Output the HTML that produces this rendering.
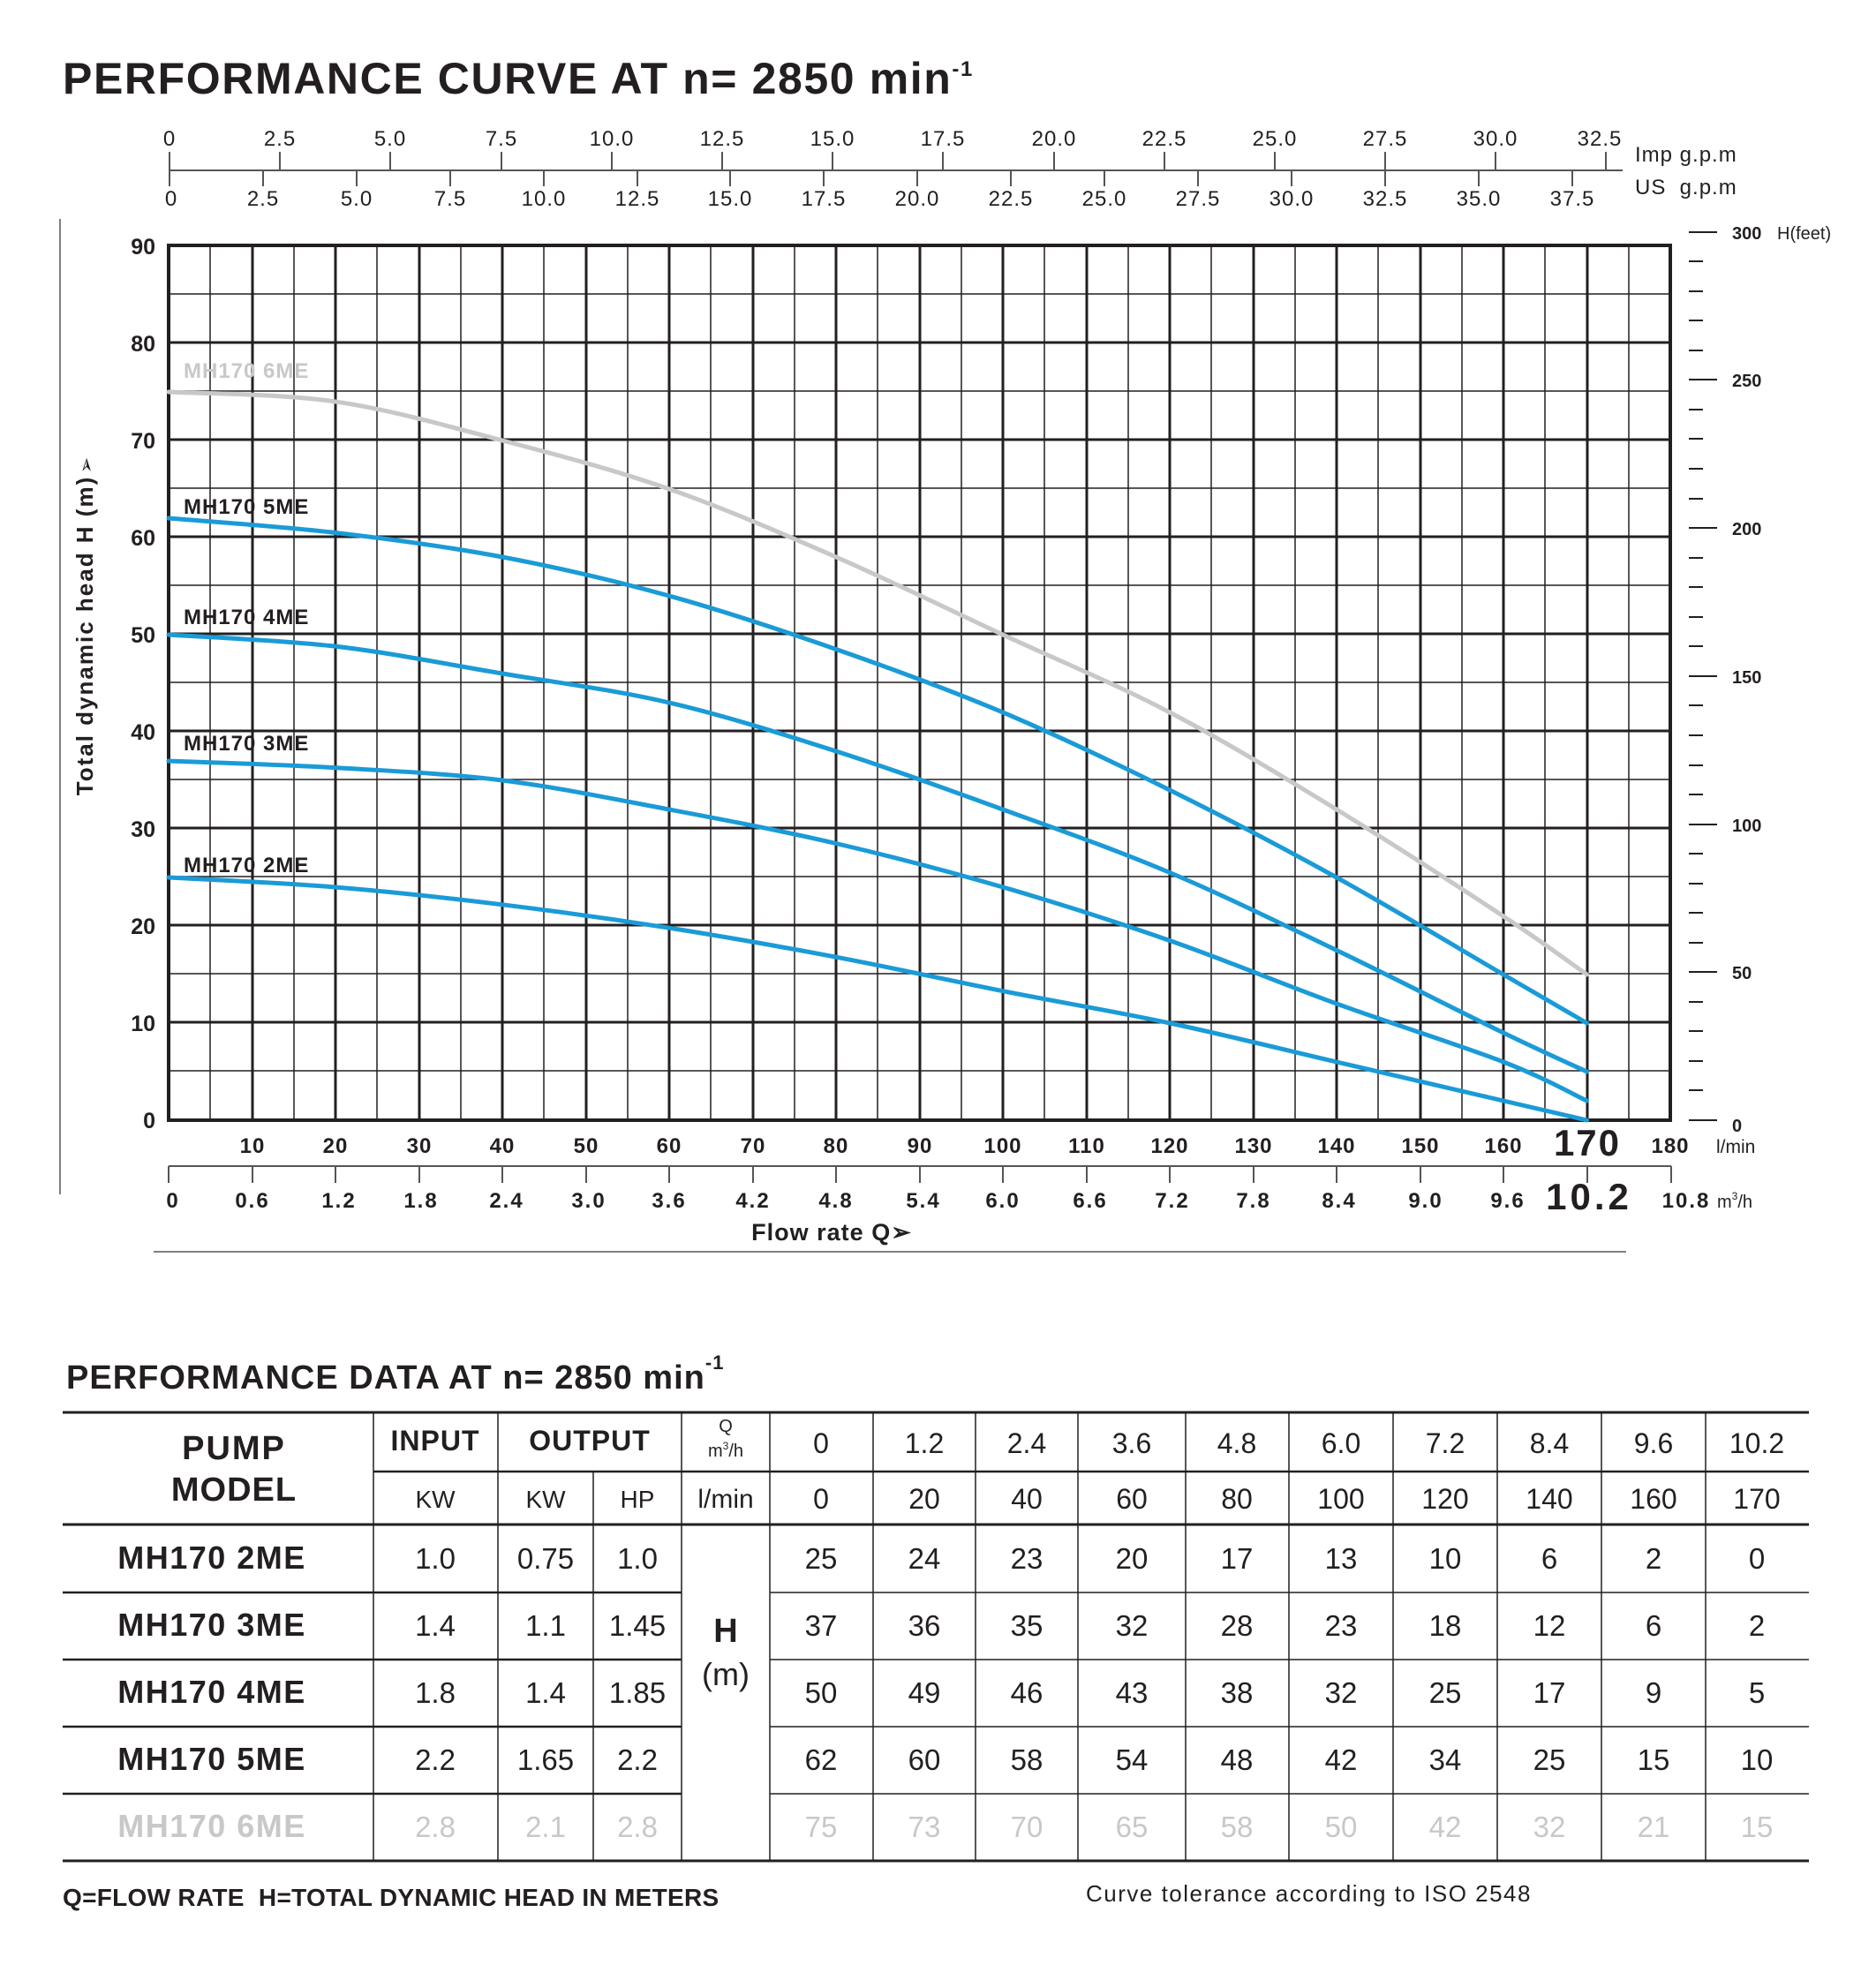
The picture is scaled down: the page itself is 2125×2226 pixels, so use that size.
<!DOCTYPE html>
<html><head><meta charset="utf-8">
<style>
html,body{margin:0;padding:0;background:#fff;}
svg{display:block;}
text{font-family:"Liberation Sans",Arial,sans-serif;fill:#231f20;}
</style></head>
<body>
<svg xmlns="http://www.w3.org/2000/svg" width="2125" height="2226" viewBox="0 0 2125 2226">
<rect width="2125" height="2226" fill="#fff"/>
<text x="71" y="106" font-size="50" font-weight="bold" letter-spacing="1.6">PERFORMANCE CURVE AT n= 2850 min<tspan font-size="24" dy="-20">-1</tspan></text>

<g stroke="#555" stroke-width="2">
<line x1="192" y1="193" x2="1838" y2="193"/>
<line x1="192" y1="172" x2="192" y2="211"/>
<line x1="317" y1="172" x2="317" y2="193"/><line x1="442" y1="172" x2="442" y2="193"/><line x1="568" y1="172" x2="568" y2="193"/><line x1="693" y1="172" x2="693" y2="193"/><line x1="818" y1="172" x2="818" y2="193"/><line x1="943" y1="172" x2="943" y2="193"/><line x1="1068" y1="172" x2="1068" y2="193"/><line x1="1194" y1="172" x2="1194" y2="193"/><line x1="1319" y1="172" x2="1319" y2="193"/><line x1="1444" y1="172" x2="1444" y2="193"/><line x1="1569" y1="172" x2="1569" y2="193"/><line x1="1694" y1="172" x2="1694" y2="193"/><line x1="1819" y1="172" x2="1819" y2="193"/>
<line x1="298" y1="193" x2="298" y2="211"/><line x1="404" y1="193" x2="404" y2="211"/><line x1="510" y1="193" x2="510" y2="211"/><line x1="616" y1="193" x2="616" y2="211"/><line x1="722" y1="193" x2="722" y2="211"/><line x1="827" y1="193" x2="827" y2="211"/><line x1="933" y1="193" x2="933" y2="211"/><line x1="1039" y1="193" x2="1039" y2="211"/><line x1="1145" y1="193" x2="1145" y2="211"/><line x1="1251" y1="193" x2="1251" y2="211"/><line x1="1357" y1="193" x2="1357" y2="211"/><line x1="1463" y1="193" x2="1463" y2="211"/><line x1="1569" y1="193" x2="1569" y2="211"/><line x1="1675" y1="193" x2="1675" y2="211"/><line x1="1781" y1="193" x2="1781" y2="211"/>
</g>
<g font-size="24" text-anchor="middle" letter-spacing="1">
<text x="192" y="165">0</text><text x="317" y="165">2.5</text><text x="442" y="165">5.0</text><text x="568" y="165">7.5</text><text x="693" y="165">10.0</text><text x="818" y="165">12.5</text><text x="943" y="165">15.0</text><text x="1068" y="165">17.5</text><text x="1194" y="165">20.0</text><text x="1319" y="165">22.5</text><text x="1444" y="165">25.0</text><text x="1569" y="165">27.5</text><text x="1694" y="165">30.0</text><text x="1812" y="165">32.5</text>
<text x="194" y="233">0</text><text x="298" y="233">2.5</text><text x="404" y="233">5.0</text><text x="510" y="233">7.5</text><text x="616" y="233">10.0</text><text x="722" y="233">12.5</text><text x="827" y="233">15.0</text><text x="933" y="233">17.5</text><text x="1039" y="233">20.0</text><text x="1145" y="233">22.5</text><text x="1251" y="233">25.0</text><text x="1357" y="233">27.5</text><text x="1463" y="233">30.0</text><text x="1569" y="233">32.5</text><text x="1675" y="233">35.0</text><text x="1781" y="233">37.5</text>
</g>
<text x="1852" y="183" font-size="24" letter-spacing="1">Imp g.p.m</text>
<text x="1852" y="220" font-size="24" letter-spacing="1">US&#160; g.p.m</text>

<line x1="68" y1="248" x2="68" y2="1353" stroke="#555" stroke-width="1.5"/>

<g stroke="#231f20" stroke-width="1.5">
<line x1="238" y1="278" x2="238" y2="1269"/><line x1="333" y1="278" x2="333" y2="1269"/><line x1="427" y1="278" x2="427" y2="1269"/><line x1="522" y1="278" x2="522" y2="1269"/><line x1="616" y1="278" x2="616" y2="1269"/><line x1="711" y1="278" x2="711" y2="1269"/><line x1="805" y1="278" x2="805" y2="1269"/><line x1="900" y1="278" x2="900" y2="1269"/><line x1="994" y1="278" x2="994" y2="1269"/><line x1="1089" y1="278" x2="1089" y2="1269"/><line x1="1183" y1="278" x2="1183" y2="1269"/><line x1="1278" y1="278" x2="1278" y2="1269"/><line x1="1372" y1="278" x2="1372" y2="1269"/><line x1="1467" y1="278" x2="1467" y2="1269"/><line x1="1561" y1="278" x2="1561" y2="1269"/><line x1="1656" y1="278" x2="1656" y2="1269"/><line x1="1750" y1="278" x2="1750" y2="1269"/><line x1="1845" y1="278" x2="1845" y2="1269"/>
<line x1="191" y1="333" x2="1892" y2="333"/><line x1="191" y1="443" x2="1892" y2="443"/><line x1="191" y1="553" x2="1892" y2="553"/><line x1="191" y1="663" x2="1892" y2="663"/><line x1="191" y1="773" x2="1892" y2="773"/><line x1="191" y1="883" x2="1892" y2="883"/><line x1="191" y1="993" x2="1892" y2="993"/><line x1="191" y1="1103" x2="1892" y2="1103"/><line x1="191" y1="1213" x2="1892" y2="1213"/>
</g>
<g stroke="#231f20" stroke-width="3">
<line x1="286" y1="278" x2="286" y2="1269"/><line x1="380" y1="278" x2="380" y2="1269"/><line x1="475" y1="278" x2="475" y2="1269"/><line x1="569" y1="278" x2="569" y2="1269"/><line x1="664" y1="278" x2="664" y2="1269"/><line x1="758" y1="278" x2="758" y2="1269"/><line x1="853" y1="278" x2="853" y2="1269"/><line x1="947" y1="278" x2="947" y2="1269"/><line x1="1042" y1="278" x2="1042" y2="1269"/><line x1="1136" y1="278" x2="1136" y2="1269"/><line x1="1231" y1="278" x2="1231" y2="1269"/><line x1="1325" y1="278" x2="1325" y2="1269"/><line x1="1420" y1="278" x2="1420" y2="1269"/><line x1="1514" y1="278" x2="1514" y2="1269"/><line x1="1609" y1="278" x2="1609" y2="1269"/><line x1="1703" y1="278" x2="1703" y2="1269"/><line x1="1798" y1="278" x2="1798" y2="1269"/>
<line x1="191" y1="388" x2="1892" y2="388"/><line x1="191" y1="498" x2="1892" y2="498"/><line x1="191" y1="608" x2="1892" y2="608"/><line x1="191" y1="718" x2="1892" y2="718"/><line x1="191" y1="828" x2="1892" y2="828"/><line x1="191" y1="938" x2="1892" y2="938"/><line x1="191" y1="1048" x2="1892" y2="1048"/><line x1="191" y1="1158" x2="1892" y2="1158"/>
</g>
<rect x="191" y="278" width="1701" height="991" fill="none" stroke="#231f20" stroke-width="4"/>

<g font-size="25" font-weight="bold" text-anchor="end">
<text x="176" y="1278">0</text><text x="176" y="1168">10</text><text x="176" y="1058">20</text><text x="176" y="948">30</text><text x="176" y="838">40</text><text x="176" y="728">50</text><text x="176" y="618">60</text><text x="176" y="508">70</text><text x="176" y="398">80</text><text x="176" y="288">90</text>
</g>
<text transform="translate(105,720) rotate(-90)" font-size="26" font-weight="bold" text-anchor="middle" letter-spacing="2">Total dynamic head H (m)</text>
<text transform="translate(105,527) rotate(-90)" font-size="22" text-anchor="middle">➢</text>

<g stroke="#231f20" stroke-width="2">
<line x1="1913" y1="1269" x2="1945" y2="1269"/><line x1="1913" y1="1101" x2="1945" y2="1101"/><line x1="1913" y1="934" x2="1945" y2="934"/><line x1="1913" y1="766" x2="1945" y2="766"/><line x1="1913" y1="598" x2="1945" y2="598"/><line x1="1913" y1="430" x2="1945" y2="430"/><line x1="1913" y1="263" x2="1945" y2="263"/>
<line x1="1913" y1="1235" x2="1929" y2="1235"/><line x1="1913" y1="1202" x2="1929" y2="1202"/><line x1="1913" y1="1168" x2="1929" y2="1168"/><line x1="1913" y1="1135" x2="1929" y2="1135"/>
<line x1="1913" y1="1068" x2="1929" y2="1068"/><line x1="1913" y1="1034" x2="1929" y2="1034"/><line x1="1913" y1="1001" x2="1929" y2="1001"/><line x1="1913" y1="967" x2="1929" y2="967"/>
<line x1="1913" y1="900" x2="1929" y2="900"/><line x1="1913" y1="867" x2="1929" y2="867"/><line x1="1913" y1="833" x2="1929" y2="833"/><line x1="1913" y1="799" x2="1929" y2="799"/>
<line x1="1913" y1="732" x2="1929" y2="732"/><line x1="1913" y1="699" x2="1929" y2="699"/><line x1="1913" y1="665" x2="1929" y2="665"/><line x1="1913" y1="632" x2="1929" y2="632"/>
<line x1="1913" y1="565" x2="1929" y2="565"/><line x1="1913" y1="531" x2="1929" y2="531"/><line x1="1913" y1="497" x2="1929" y2="497"/><line x1="1913" y1="464" x2="1929" y2="464"/>
<line x1="1913" y1="397" x2="1929" y2="397"/><line x1="1913" y1="363" x2="1929" y2="363"/><line x1="1913" y1="330" x2="1929" y2="330"/><line x1="1913" y1="296" x2="1929" y2="296"/>
</g>
<g font-size="20" font-weight="bold">
<text x="1962" y="1282">0</text><text x="1962" y="1109">50</text><text x="1962" y="942">100</text><text x="1962" y="774">150</text><text x="1962" y="606">200</text><text x="1962" y="438">250</text><text x="1962" y="271">300</text>
</g>
<text x="2013" y="271" font-size="20">H(feet)</text>

<g font-size="24" font-weight="bold" text-anchor="middle" letter-spacing="1">
<text x="286" y="1306">10</text><text x="380" y="1306">20</text><text x="475" y="1306">30</text><text x="569" y="1306">40</text><text x="664" y="1306">50</text><text x="758" y="1306">60</text><text x="853" y="1306">70</text><text x="947" y="1306">80</text><text x="1042" y="1306">90</text><text x="1136" y="1306">100</text><text x="1231" y="1306">110</text><text x="1325" y="1306">120</text><text x="1420" y="1306">130</text><text x="1514" y="1306">140</text><text x="1609" y="1306">150</text><text x="1703" y="1306">160</text><text x="1892" y="1306">180</text>
</g>
<text x="1798" y="1309" font-size="42" font-weight="bold" text-anchor="middle" letter-spacing="2">170</text>
<text x="1944" y="1306" font-size="21">l/min</text>
<g stroke="#555" stroke-width="2">
<line x1="191" y1="1321" x2="1893" y2="1321"/>
<line x1="191" y1="1321" x2="191" y2="1340"/><line x1="286" y1="1321" x2="286" y2="1340"/><line x1="380" y1="1321" x2="380" y2="1340"/><line x1="475" y1="1321" x2="475" y2="1340"/><line x1="569" y1="1321" x2="569" y2="1340"/><line x1="664" y1="1321" x2="664" y2="1340"/><line x1="758" y1="1321" x2="758" y2="1340"/><line x1="853" y1="1321" x2="853" y2="1340"/><line x1="947" y1="1321" x2="947" y2="1340"/><line x1="1042" y1="1321" x2="1042" y2="1340"/><line x1="1136" y1="1321" x2="1136" y2="1340"/><line x1="1231" y1="1321" x2="1231" y2="1340"/><line x1="1325" y1="1321" x2="1325" y2="1340"/><line x1="1420" y1="1321" x2="1420" y2="1340"/><line x1="1514" y1="1321" x2="1514" y2="1340"/><line x1="1609" y1="1321" x2="1609" y2="1340"/><line x1="1703" y1="1321" x2="1703" y2="1340"/><line x1="1798" y1="1321" x2="1798" y2="1340"/><line x1="1893" y1="1321" x2="1893" y2="1340"/>
</g>
<g font-size="24" font-weight="bold" text-anchor="middle" letter-spacing="2">
<text x="196" y="1368">0</text><text x="286" y="1368">0.6</text><text x="384" y="1368">1.2</text><text x="477" y="1368">1.8</text><text x="574" y="1368">2.4</text><text x="667" y="1368">3.0</text><text x="758" y="1368">3.6</text><text x="853" y="1368">4.2</text><text x="947" y="1368">4.8</text><text x="1046" y="1368">5.4</text><text x="1136" y="1368">6.0</text><text x="1235" y="1368">6.6</text><text x="1328" y="1368">7.2</text><text x="1420" y="1368">7.8</text><text x="1517" y="1368">8.4</text><text x="1615" y="1368">9.0</text><text x="1708" y="1368">9.6</text><text x="1910" y="1368">10.8</text>
</g>
<text x="1800" y="1370" font-size="42" font-weight="bold" text-anchor="middle" letter-spacing="4">10.2</text>
<text x="1945" y="1368" font-size="20">m<tspan font-size="12" dy="-9">3</tspan><tspan dy="9">/h</tspan></text>
<text x="942" y="1405" font-size="27" font-weight="bold" text-anchor="middle" letter-spacing="1">Flow rate Q➢</text>
<line x1="174" y1="1418" x2="1842" y2="1418" stroke="#555" stroke-width="1.5"/>

<g fill="none" stroke-width="5" stroke-linejoin="round" stroke-linecap="round">
<path id="c6" stroke="#c8c8c8" d="M191,444 L380,466 L569,499 L758,554 L947,631 L1136,719 L1325,807 L1514,917 L1703,1038 L1797,1104"/>
<path id="c5" stroke="#1a9bd7" d="M191,587 L380,609 L569,631 L758,675 L947,741 L1136,807 L1325,895 L1514,994 L1703,1104 L1797,1159"/>
<path id="c4" stroke="#1a9bd7" d="M191,719 L380,730 L569,763 L758,796 L947,851 L1136,917 L1325,994 L1514,1082 L1703,1170 L1797,1214"/>
<path id="c3" stroke="#1a9bd7" d="M191,862 L380,873 L569,884 L758,917 L947,961 L1136,1016 L1325,1071 L1514,1137 L1703,1203 L1797,1247"/>
<path id="c2" stroke="#1a9bd7" d="M191,994 L380,1005 L569,1016 L758,1049 L947,1082 L1136,1126 L1325,1159 L1514,1203 L1703,1247 L1797,1269"/>
</g>
<g font-size="24" font-weight="bold" letter-spacing="1">
<text x="208" y="428" style="fill:#c8c8c8">MH170 6ME</text>
<text x="208" y="582">MH170 5ME</text>
<text x="208" y="707">MH170 4ME</text>
<text x="208" y="850">MH170 3ME</text>
<text x="208" y="988">MH170 2ME</text>
</g>

<text x="75" y="1573" font-size="38" font-weight="bold" letter-spacing="1">PERFORMANCE DATA AT n= 2850 min<tspan font-size="22" dy="-22">-1</tspan></text>

<g stroke="#231f20">
<line x1="71" y1="1600" x2="2049" y2="1600" stroke-width="3"/>
<line x1="423" y1="1667" x2="2049" y2="1667" stroke-width="2.5"/>
<line x1="71" y1="1727" x2="2049" y2="1727" stroke-width="3"/>
<line x1="71" y1="1804" x2="772" y2="1804" stroke-width="2.5"/><line x1="872" y1="1804" x2="2049" y2="1804" stroke-width="1.5"/>
<line x1="71" y1="1880" x2="772" y2="1880" stroke-width="2.5"/><line x1="872" y1="1880" x2="2049" y2="1880" stroke-width="1.5"/>
<line x1="71" y1="1956" x2="772" y2="1956" stroke-width="2.5"/><line x1="872" y1="1956" x2="2049" y2="1956" stroke-width="1.5"/>
<line x1="71" y1="2032" x2="772" y2="2032" stroke-width="2.5"/><line x1="872" y1="2032" x2="2049" y2="2032" stroke-width="1.5"/>
<line x1="71" y1="2108" x2="2049" y2="2108" stroke-width="3"/>
<g stroke-width="1.5">
<line x1="423" y1="1600" x2="423" y2="2108"/><line x1="564" y1="1600" x2="564" y2="2108"/><line x1="672" y1="1667" x2="672" y2="2108"/><line x1="772" y1="1600" x2="772" y2="2108"/><line x1="872" y1="1600" x2="872" y2="2108"/>
<line x1="989" y1="1600" x2="989" y2="2108"/><line x1="1105" y1="1600" x2="1105" y2="2108"/><line x1="1221" y1="1600" x2="1221" y2="2108"/><line x1="1343" y1="1600" x2="1343" y2="2108"/><line x1="1460" y1="1600" x2="1460" y2="2108"/><line x1="1578" y1="1600" x2="1578" y2="2108"/><line x1="1696" y1="1600" x2="1696" y2="2108"/><line x1="1814" y1="1600" x2="1814" y2="2108"/><line x1="1932" y1="1600" x2="1932" y2="2108"/>
</g>
</g>
<g text-anchor="middle">
<text x="265" y="1653" font-size="38" font-weight="bold" letter-spacing="2">PUMP</text>
<text x="265" y="1700" font-size="38" font-weight="bold" letter-spacing="1">MODEL</text>
<text x="493" y="1643" font-size="32" font-weight="bold" letter-spacing="1">INPUT</text>
<text x="668" y="1643" font-size="32" font-weight="bold" letter-spacing="1">OUTPUT</text>
<text x="822" y="1622" font-size="20">Q</text>
<text x="822" y="1650" font-size="20">m<tspan font-size="12" dy="-8">3</tspan><tspan dy="8">/h</tspan></text>
<text x="493" y="1708" font-size="28">KW</text>
<text x="618" y="1708" font-size="28">KW</text>
<text x="722" y="1708" font-size="28">HP</text>
<text x="822" y="1708" font-size="30">l/min</text>
<text x="822" y="1860" font-size="38" font-weight="bold">H</text>
<text x="822" y="1909" font-size="36">(m)</text>
</g>
<g text-anchor="middle" font-size="32">
<text x="930" y="1646">0</text><text x="1047" y="1646">1.2</text><text x="1163" y="1646">2.4</text><text x="1282" y="1646">3.6</text><text x="1401" y="1646">4.8</text><text x="1519" y="1646">6.0</text><text x="1637" y="1646">7.2</text><text x="1755" y="1646">8.4</text><text x="1873" y="1646">9.6</text><text x="1990" y="1646">10.2</text>
<text x="930" y="1709">0</text><text x="1047" y="1709">20</text><text x="1163" y="1709">40</text><text x="1282" y="1709">60</text><text x="1401" y="1709">80</text><text x="1519" y="1709">100</text><text x="1637" y="1709">120</text><text x="1755" y="1709">140</text><text x="1873" y="1709">160</text><text x="1990" y="1709">170</text>
</g>
<g font-size="36" font-weight="bold" text-anchor="middle" letter-spacing="1.5">
<text x="240" y="1777">MH170 2ME</text>
<text x="240" y="1853">MH170 3ME</text>
<text x="240" y="1929">MH170 4ME</text>
<text x="240" y="2005">MH170 5ME</text>
<text x="240" y="2081" style="fill:#c8c8c8">MH170 6ME</text>
</g>
<g font-size="33" text-anchor="middle">
<text x="493" y="1777">1.0</text><text x="618" y="1777">0.75</text><text x="722" y="1777">1.0</text>
<text x="930" y="1777">25</text><text x="1047" y="1777">24</text><text x="1163" y="1777">23</text><text x="1282" y="1777">20</text><text x="1401" y="1777">17</text><text x="1519" y="1777">13</text><text x="1637" y="1777">10</text><text x="1755" y="1777">6</text><text x="1873" y="1777">2</text><text x="1990" y="1777">0</text>
<text x="493" y="1853">1.4</text><text x="618" y="1853">1.1</text><text x="722" y="1853">1.45</text>
<text x="930" y="1853">37</text><text x="1047" y="1853">36</text><text x="1163" y="1853">35</text><text x="1282" y="1853">32</text><text x="1401" y="1853">28</text><text x="1519" y="1853">23</text><text x="1637" y="1853">18</text><text x="1755" y="1853">12</text><text x="1873" y="1853">6</text><text x="1990" y="1853">2</text>
<text x="493" y="1929">1.8</text><text x="618" y="1929">1.4</text><text x="722" y="1929">1.85</text>
<text x="930" y="1929">50</text><text x="1047" y="1929">49</text><text x="1163" y="1929">46</text><text x="1282" y="1929">43</text><text x="1401" y="1929">38</text><text x="1519" y="1929">32</text><text x="1637" y="1929">25</text><text x="1755" y="1929">17</text><text x="1873" y="1929">9</text><text x="1990" y="1929">5</text>
<text x="493" y="2005">2.2</text><text x="618" y="2005">1.65</text><text x="722" y="2005">2.2</text>
<text x="930" y="2005">62</text><text x="1047" y="2005">60</text><text x="1163" y="2005">58</text><text x="1282" y="2005">54</text><text x="1401" y="2005">48</text><text x="1519" y="2005">42</text><text x="1637" y="2005">34</text><text x="1755" y="2005">25</text><text x="1873" y="2005">15</text><text x="1990" y="2005">10</text>
</g>
<g font-size="33" text-anchor="middle">
<text x="493" y="2081" style="fill:#c8c8c8">2.8</text><text x="618" y="2081" style="fill:#c8c8c8">2.1</text><text x="722" y="2081" style="fill:#c8c8c8">2.8</text>
<text x="930" y="2081" style="fill:#c8c8c8">75</text><text x="1047" y="2081" style="fill:#c8c8c8">73</text><text x="1163" y="2081" style="fill:#c8c8c8">70</text><text x="1282" y="2081" style="fill:#c8c8c8">65</text><text x="1401" y="2081" style="fill:#c8c8c8">58</text><text x="1519" y="2081" style="fill:#c8c8c8">50</text><text x="1637" y="2081" style="fill:#c8c8c8">42</text><text x="1755" y="2081" style="fill:#c8c8c8">32</text><text x="1873" y="2081" style="fill:#c8c8c8">21</text><text x="1990" y="2081" style="fill:#c8c8c8">15</text>
</g>
<text x="71" y="2159" font-size="28" font-weight="bold" letter-spacing="0.3">Q=FLOW RATE&#160; H=TOTAL DYNAMIC HEAD IN METERS</text>
<text x="1230" y="2154" font-size="26" letter-spacing="1.5">Curve tolerance according to ISO 2548</text>
</svg>
<script>
(function(){
  var X=[0,20,40,60,80,100,120,140,160,170].map(function(q){return 191+q*9.45;});
  var D={c6:[75,74,70,65,58,50,42,32,21,15],c5:[62,60.5,58,54,48.5,42,34,25,15,10],c4:[50,48.8,46,43,38,32,25.5,17.5,9,5],c3:[37,36.3,35,32,28.5,24,18.5,12,6,2],c2:[25,24,22.2,19.8,16.8,13.3,10,6,2,0]};
  for(var id in D){
    var p=D[id].map(function(h,i){return [X[i],1269-h*11];});
    var d="M"+p[0][0]+","+p[0][1];
    for(var i=0;i<p.length-1;i++){
      var p0=p[Math.max(i-1,0)],p1=p[i],p2=p[i+1],p3=p[Math.min(i+2,p.length-1)];
      var c1x=p1[0]+(p2[0]-p0[0])/6,c1y=p1[1]+(p2[1]-p0[1])/6;
      var c2x=p2[0]-(p3[0]-p1[0])/6,c2y=p2[1]-(p3[1]-p1[1])/6;
      d+=" C"+c1x.toFixed(1)+","+c1y.toFixed(1)+" "+c2x.toFixed(1)+","+c2y.toFixed(1)+" "+p2[0].toFixed(1)+","+p2[1].toFixed(1);
    }
    document.getElementById(id).setAttribute("d",d);
  }
})();
</script>
</body></html>
